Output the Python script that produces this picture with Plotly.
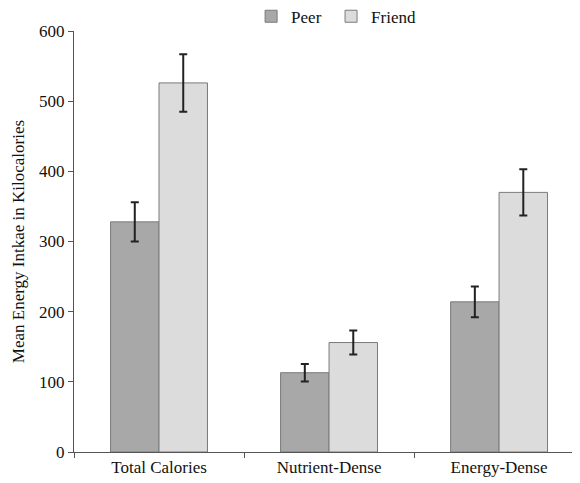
import plotly.graph_objects as go

categories = ["Total Calories", "Nutrient-Dense", "Energy-Dense"]
peer_values = [328, 113, 214]
peer_errors = [28, 12.5, 22]
friend_values = [526, 156, 370]
friend_errors = [41, 17, 33]
y_ticks = [0, 100, 200, 300, 400, 500, 600]

font_family = "Liberation Serif, Times New Roman, serif"

fig = go.Figure()
fig.add_trace(go.Bar(
    x=categories, y=peer_values, name="Peer", legend="legend",
    marker=dict(color="#a8a8a8", line=dict(color="#7a7a7a", width=1)),
    error_y=dict(type="data", array=peer_errors, color="#222222", thickness=2, width=4),
))
fig.add_trace(go.Bar(
    x=categories, y=friend_values, name="Friend", legend="legend2",
    marker=dict(color="#dcdcdc", line=dict(color="#7a7a7a", width=1)),
    error_y=dict(type="data", array=friend_errors, color="#222222", thickness=2, width=4),
))

legend_common = dict(orientation="h", y=1.034, xanchor="left", yanchor="middle",
                     font=dict(size=17), itemwidth=30, bgcolor="rgba(0,0,0,0)")

# the page body has an 8px margin, so the figure is sized and placed to compensate
fig.update_layout(
    width=572, height=475,
    margin=dict(l=66, r=0, t=23, b=31, autoexpand=False),
    paper_bgcolor="white", plot_bgcolor="white",
    barmode="group", bargap=0.43, bargroupgap=0,
    font=dict(family=font_family, size=17, color="#111111"),
    showlegend=True,
    legend=dict(x=0.35, **legend_common),
    legend2=dict(x=0.508, **legend_common),
    xaxis=dict(
        range=[-0.5, 2.476],
        showline=True, linecolor="#555555", linewidth=1,
        ticks="outside", tickson="boundaries", ticklen=5, tickcolor="#555555",
        tickfont=dict(size=17), showgrid=False, zeroline=False,
    ),
    yaxis=dict(
        range=[0, 600], tickvals=y_ticks,
        showline=True, linecolor="#555555", linewidth=1,
        ticks="outside", ticklen=5, tickcolor="#555555",
        tickfont=dict(size=17), showgrid=False, zeroline=False,
        title=dict(text="Mean Energy Intkae in Kilocalories", font=dict(size=17), standoff=10),
    ),
)

fig.write_html("out.html")
